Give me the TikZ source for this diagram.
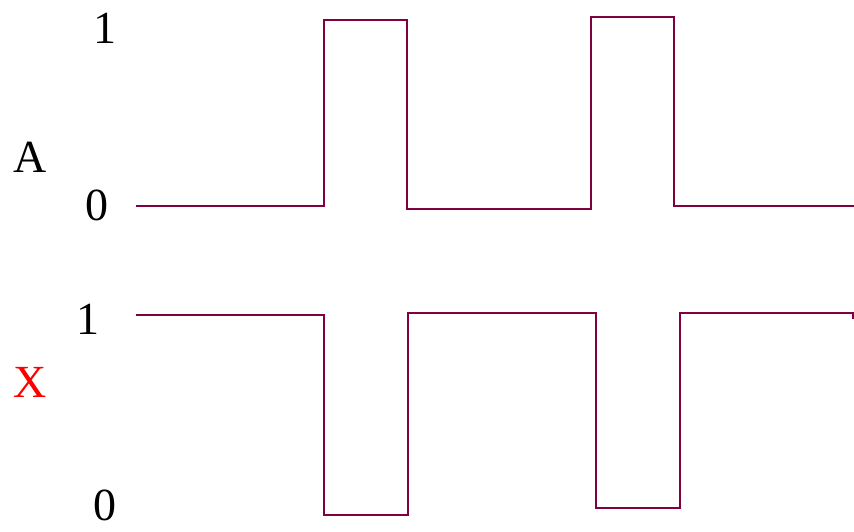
\documentclass[tikz,border=0pt]{standalone}
\usepackage{fontspec}
\setmainfont{Liberation Serif}
\begin{document}
\begin{tikzpicture}[x=1pt,y=-1pt,
  wave/.style={draw={rgb,255:red,128;green,0;blue,64}, line width=2.8pt, line join=miter},
  lbl/.style={font=\fontsize{46}{46}\selectfont, inner sep=0pt}]
\useasboundingbox (0,0) rectangle (854,531);
\node[lbl] (a1) at (105,28) {1};
\node[lbl] (aA) at (30,157) {A};
\node[lbl] (a0) at (97,205) {0};
\node[lbl] (x1) at (88,319) {1};
\node[lbl, text=red] (xX) at (30,382) {X};
\node[lbl] (x0) at (105,505) {0};
\draw[wave] (136,206) -- (324,206) -- (324,20) -- (407,20) -- (407,209) -- (591,209)
  -- (591,17) -- (674,17) -- (674,206) -- (854,206);
\draw[wave] (136,315) -- (324,315) -- (324,515) -- (408,515) -- (408,313) -- (596,313)
  -- (596,508) -- (680,508) -- (680,313) -- (853,313) -- (853,319);
\end{tikzpicture}
\end{document}
